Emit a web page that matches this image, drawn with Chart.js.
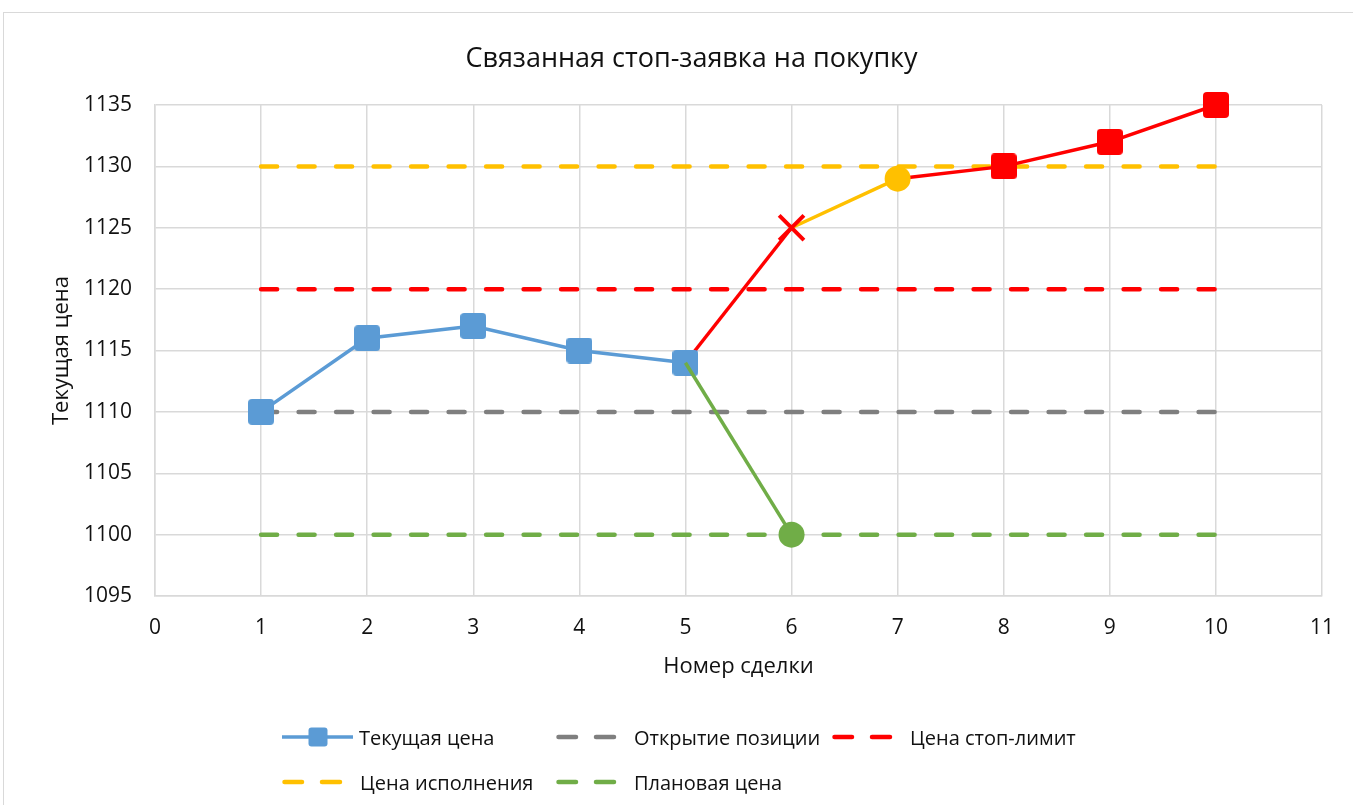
<!DOCTYPE html>
<html>
<head>
<meta charset="utf-8">
<title>Связанная стоп-заявка на покупку</title>
<script src="https://cdn.jsdelivr.net/npm/chart.js@4.4.0/dist/chart.umd.min.js"></script>
<style>
  html, body { margin: 0; padding: 0; background: #fff; overflow: hidden; }
  body { width: 1353px; height: 805px; position: relative; font-family: "Open Sans", sans-serif; color: #111; }
  #frame { position: absolute; left: 3px; top: 12px; width: 1400px; height: 900px; border: 1.5px solid #d9d9d9; box-sizing: border-box; }
  #wrap { position: absolute; left: 0; top: 0; width: 1353px; height: 805px; }
  #title { position: absolute; left: 0; width: 1383px; top: 39px; text-align: center; font-size: 27px; line-height: 36px; }
  .lg { position: absolute; display: flex; align-items: center; height: 30px; font-size: 20px; white-space: nowrap; }
  .lg svg { flex: none; }
</style>
</head>
<body>
<div id="frame"></div>
<div id="wrap"><canvas id="chart" width="1353" height="805"></canvas></div>
<div id="title">Связанная стоп-заявка на покупку</div>
<div id="legend"></div>
<script>
// axis ranges
const xMin = 0, xMax = 11;
const yMin = 1095, yMax = 1135, yStep = 5;

// trade numbers where the horizontal levels are drawn
const tradeNo = [1, 2, 3, 4, 5, 6, 7, 8, 9, 10];

// current price path
const currentX = [1, 2, 3, 4, 5];
const currentPrice = [1110, 1116, 1117, 1115, 1114];

// rise to the stop trigger
const triggerX = [5, 6];
const triggerPrice = [1114, 1125];

// execution
const fillX = [6, 7];
const fillPrice = [1125, 1129];

// after execution
const afterX = [7, 8, 9, 10];
const afterPrice = [1129, 1130, 1132, 1135];

// planned scenario
const plannedX = [5, 6];
const plannedPrice = [1114, 1100];

// horizontal levels
const openLevel = 1110;
const stopLimitLevel = 1120;
const execLevel = 1130;
const plannedLevel = 1100;

const BLUE = '#5B9BD5', GREY = '#7F7F7F', RED = '#FF0000', YELLOW = '#FFC000', GREEN = '#70AD47';
const GRID = '#d9d9d9';
const TICK_FONT = { family: '"Open Sans", sans-serif', size: 21 };
const AXIS_FONT = { family: '"Open Sans", sans-serif', size: 22 };

const pts = (xs, ys) => xs.map((x, i) => ({ x: x, y: ys[i] }));
const level = v => tradeNo.map(x => ({ x: x, y: v }));

// rounded square marker like Excel's
function squareImg(color, size, r) {
    const c = document.createElement('canvas');
    c.width = size; c.height = size;
    const g = c.getContext('2d');
    g.fillStyle = color;
    g.beginPath();
    if (g.roundRect) g.roundRect(0, 0, size, size, r); else g.rect(0, 0, size, size);
    g.fill();
    return c;
}
const blueSq = squareImg(BLUE, 26, 4);
const redSq = squareImg(RED, 26, 4);

function dashed(label, v, color, order) {
    return {
        label, data: level(v), borderColor: color, backgroundColor: color,
        borderWidth: 4.5, borderDash: [16, 21.5], borderCapStyle: 'round',
        pointRadius: 0, order, legendDash: true
    };
}

const datasets = [
    { label: 'Текущая цена', data: pts(currentX, currentPrice), borderColor: BLUE, backgroundColor: BLUE,
      borderWidth: 3.5, pointStyle: blueSq, pointRadius: 13, order: 2 },
    dashed('Открытие позиции', openLevel, GREY, 6),
    dashed('Цена стоп-лимит', stopLimitLevel, RED, 7),
    dashed('Цена исполнения', execLevel, YELLOW, 8),
    dashed('Плановая цена', plannedLevel, GREEN, 9),
    { label: 'trigger', hidden_legend: true, data: pts(triggerX, triggerPrice), borderColor: RED,
      borderWidth: 3.5, pointStyle: 'crossRot', pointRadius: [0, 17.5], pointBorderColor: RED, pointBorderWidth: 4, order: 3 },
    { label: 'fill', hidden_legend: true, data: pts(fillX, fillPrice), borderColor: YELLOW,
      borderWidth: 3.5, pointStyle: 'circle', pointRadius: [0, 13], pointBackgroundColor: YELLOW, pointBorderWidth: 0, order: 4 },
    { label: 'after', hidden_legend: true, data: pts(afterX, afterPrice), borderColor: RED,
      borderWidth: 3.5, pointStyle: redSq, pointRadius: [0, 13, 13, 13], order: 5 },
    { label: 'planned', hidden_legend: true, data: pts(plannedX, plannedPrice), borderColor: GREEN,
      borderWidth: 3.5, pointStyle: 'circle', pointRadius: [0, 13], pointBackgroundColor: GREEN, pointBorderWidth: 0, order: 1 }
];
datasets.forEach(d => { d.tension = 0; d.clip = false; });

const chart = new Chart(document.getElementById('chart'), {
    type: 'line',
    data: { datasets },
    options: {
        responsive: false,
        animation: false,
        events: [],
        layout: { padding: { left: 45, right: 30, top: 105, bottom: 121 } },
        plugins: { legend: { display: false }, tooltip: { enabled: false }, title: { display: false } },
        scales: {
            x: {
                type: 'linear', min: xMin, max: xMax,
                ticks: { stepSize: 1, padding: 19, font: TICK_FONT, color: '#111', callback: v => String(v) },
                grid: { color: GRID, lineWidth: 1.5, drawTicks: false },
                border: { color: GRID, width: 1.5 },
                title: { display: true, text: 'Номер сделки', font: AXIS_FONT, color: '#111', padding: { top: 4, bottom: 4 } },
                afterFit: s => { s.height = 88; }
            },
            y: {
                min: yMin, max: yMax,
                ticks: { stepSize: yStep, padding: 23, font: TICK_FONT, color: '#111', callback: v => String(v) },
                grid: { color: GRID, lineWidth: 1.5, drawTicks: false },
                border: { color: GRID, width: 1.5 },
                title: { display: true, text: 'Текущая цена', font: AXIS_FONT, color: '#111', padding: { top: 4, bottom: 4 } },
                afterFit: s => { s.width = 110; }
            }
        }
    }
});

// HTML legend built from the chart's datasets, laid out in Excel-like columns
const legendCols = [282, 556, 832];
const legendRows = [737, 782];
const legendEl = document.getElementById('legend');
chart.data.datasets.filter(d => !d.hidden_legend).forEach((d, i) => {
    const col = legendCols[i % 3], row = legendRows[Math.floor(i / 3)];
    const item = document.createElement('div');
    item.className = 'lg';
    item.style.left = col + 'px';
    item.style.top = (row - 15) + 'px';
    let svg;
    if (d.legendDash) {
        svg = `<svg width="78" height="30"><g stroke="${d.borderColor}" stroke-width="4.5" stroke-linecap="round">
            <line x1="2.5" y1="15" x2="20" y2="15"/><line x1="40" y1="15" x2="58" y2="15"/></g></svg>`;
    } else {
        svg = `<svg width="77" height="30"><line x1="0" y1="15" x2="71" y2="15" stroke="${d.borderColor}" stroke-width="3.5"/>
            <rect x="26.5" y="5.5" width="19" height="19" rx="3" fill="${d.borderColor}"/></svg>`;
    }
    item.innerHTML = svg + '<span>' + d.label + '</span>';
    legendEl.appendChild(item);
});
</script>
</body>
</html>
